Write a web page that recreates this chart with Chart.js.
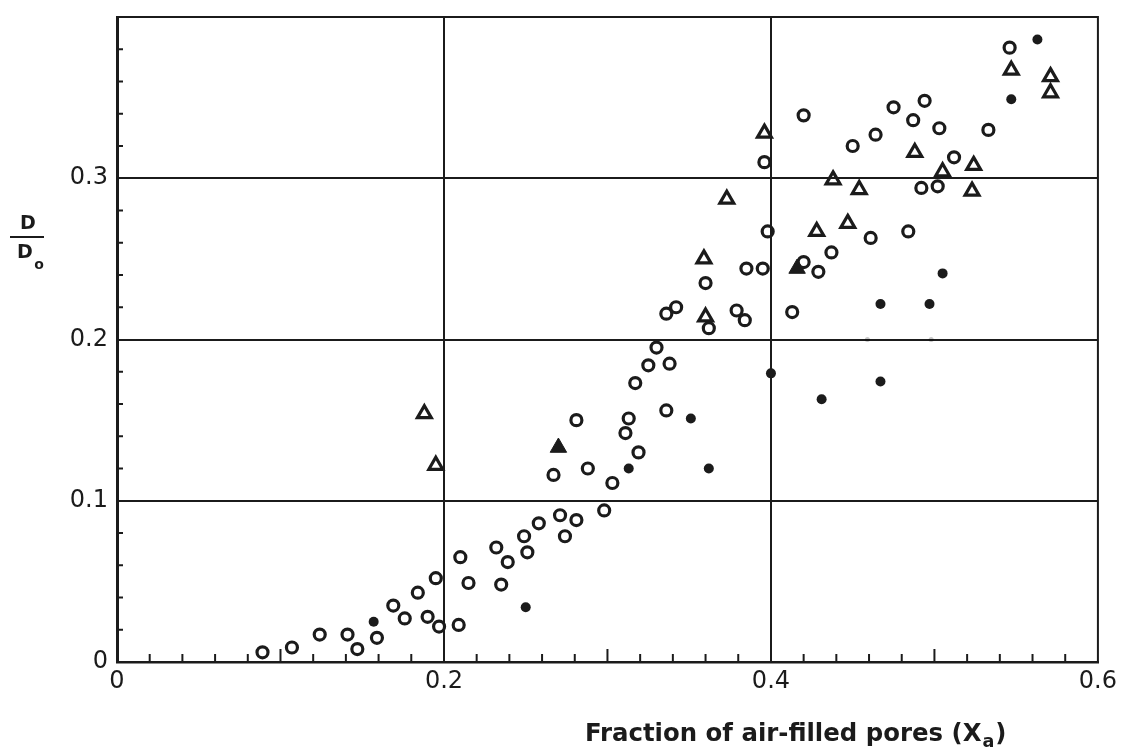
<!DOCTYPE html>
<html>
<head>
<meta charset="utf-8">
<script src="https://cdn.jsdelivr.net/npm/chart.js@4/dist/chart.umd.min.js"></script>
<style>
  html, body { margin: 0; padding: 0; background: #fff; }
  canvas { display: block; }
</style>
</head>
<body>
<canvas id="chart" width="1122" height="748"></canvas>
<script>
// Relative gas diffusivity D/D0 plotted against the fraction of air-filled pores.

// Open circles
const openCircleX = [0.089, 0.107, 0.124, 0.141, 0.147, 0.159, 0.169, 0.176, 0.184, 0.190,
  0.195, 0.197, 0.209, 0.210, 0.215, 0.232, 0.235, 0.239, 0.251, 0.249,
  0.258, 0.267, 0.271, 0.274, 0.281, 0.281, 0.288, 0.298, 0.303, 0.311,
  0.313, 0.319, 0.317, 0.325, 0.338, 0.330, 0.336, 0.336, 0.342, 0.360,
  0.362, 0.379, 0.384, 0.385, 0.395, 0.398, 0.396, 0.413, 0.420, 0.429,
  0.437, 0.461, 0.484, 0.420, 0.450, 0.464, 0.475, 0.487, 0.494, 0.503,
  0.533, 0.512, 0.492, 0.502, 0.546];
const openCircleY = [0.006, 0.009, 0.017, 0.017, 0.008, 0.015, 0.035, 0.027, 0.043, 0.028,
  0.052, 0.022, 0.023, 0.065, 0.049, 0.071, 0.048, 0.062, 0.068, 0.078,
  0.086, 0.116, 0.091, 0.078, 0.088, 0.150, 0.120, 0.094, 0.111, 0.142,
  0.151, 0.130, 0.173, 0.184, 0.185, 0.195, 0.156, 0.216, 0.220, 0.235,
  0.207, 0.218, 0.212, 0.244, 0.244, 0.267, 0.310, 0.217, 0.248, 0.242,
  0.254, 0.263, 0.267, 0.339, 0.320, 0.327, 0.344, 0.336, 0.348, 0.331,
  0.330, 0.313, 0.294, 0.295, 0.381];

// Open triangles
const openTriangleX = [0.188, 0.195, 0.359, 0.360, 0.373, 0.396, 0.428, 0.438, 0.447, 0.454,
  0.488, 0.505, 0.524, 0.523, 0.547, 0.571, 0.571];
const openTriangleY = [0.154, 0.122, 0.250, 0.214, 0.287, 0.328, 0.267, 0.299, 0.272, 0.293,
  0.316, 0.304, 0.308, 0.292, 0.367, 0.363, 0.353];

// Solid triangles
const solidTriangleX = [0.270, 0.416];
const solidTriangleY = [0.133, 0.244];

// Solid dots
const solidDotX = [0.157, 0.250, 0.313, 0.351, 0.362, 0.400, 0.431, 0.467, 0.467, 0.497,
  0.505, 0.547, 0.563];
const solidDotY = [0.025, 0.034, 0.120, 0.151, 0.120, 0.179, 0.163, 0.174, 0.222, 0.222,
  0.241, 0.349, 0.386];

// Faint marks near the 0.2 line
const faintX = [0.459, 0.498];
const faintY = [0.200, 0.200];

// Axis ticks and labels
const xMajorTicks = [0, 0.2, 0.4, 0.6];
const xTickLabels = ['0', '0.2', '0.4', '0.6'];
const yMajorTicks = [0, 0.1, 0.2, 0.3];
const yTickLabels = ['0', '0.1', '0.2', '0.3'];
const minorStep = 0.02;

const ink = '#1b1b1b';
const labelFont = '"DejaVu Sans", "Liberation Sans", sans-serif';

const toPoints = (xs, ys) => xs.map((x, i) => ({ x: x, y: ys[i] }));

// Frame, inward minor ticks and axis titles
const paperPlugin = {
  id: 'paper',
  beforeDatasetsDraw(chart) {
    const { ctx, chartArea: a, scales } = chart;
    ctx.save();
    ctx.strokeStyle = ink;
    ctx.lineCap = 'butt';
    // top and right frame
    ctx.lineWidth = 2;
    ctx.beginPath();
    ctx.moveTo(a.left, a.top);
    ctx.lineTo(a.right, a.top);
    ctx.lineTo(a.right, a.bottom);
    ctx.stroke();
    // x minor ticks (longer at the odd tenths)
    for (let i = 1; i * minorStep < 0.6 - 1e-9; i++) {
      const v = i * minorStep;
      if (Math.abs(v / 0.2 - Math.round(v / 0.2)) < 1e-6) continue;
      const px = scales.x.getPixelForValue(v);
      const half = Math.abs(v / 0.1 - Math.round(v / 0.1)) < 1e-6;
      ctx.beginPath();
      ctx.moveTo(px, a.bottom);
      ctx.lineTo(px, a.bottom - (half ? 13 : 8));
      ctx.stroke();
    }
    // y minor ticks
    for (let i = 1; i * minorStep < 0.4 - 1e-9; i++) {
      const v = i * minorStep;
      if (Math.abs(v / 0.1 - Math.round(v / 0.1)) < 1e-6) continue;
      const py = scales.y.getPixelForValue(v);
      ctx.beginPath();
      ctx.moveTo(a.left, py);
      ctx.lineTo(a.left + 6, py);
      ctx.stroke();
    }
    ctx.restore();
  },
  afterDraw(chart) {
    const { ctx, chartArea: a } = chart;
    ctx.save();
    ctx.fillStyle = ink;
    ctx.strokeStyle = ink;

    // x axis title with subscript
    const main = 'Fraction of air-filled pores (X';
    let size = 22;
    ctx.font = 'bold ' + size + 'px ' + labelFont;
    const targetWidth = a.width * 0.405;
    size = size * targetWidth / ctx.measureText(main).width;
    ctx.font = 'bold ' + size.toFixed(1) + 'px ' + labelFont;
    const tx = a.left + a.width * 0.477;
    const ty = a.bottom + 79;
    ctx.textAlign = 'left';
    ctx.textBaseline = 'alphabetic';
    ctx.fillText(main, tx, ty);
    let cx = tx + ctx.measureText(main).width + 1;
    ctx.font = 'bold ' + (size * 0.72).toFixed(1) + 'px ' + labelFont;
    ctx.fillText('a', cx, ty + 6);
    cx += ctx.measureText('a').width + 1;
    ctx.font = 'bold ' + size.toFixed(1) + 'px ' + labelFont;
    ctx.fillText(')', cx, ty);

    // y axis title as a fraction D / D0
    const fx = 28;
    const lineY = a.top + 220;
    ctx.font = 'bold 19px ' + labelFont;
    ctx.textAlign = 'center';
    ctx.fillText('D', fx, lineY - 8);
    ctx.lineWidth = 2;
    ctx.beginPath();
    ctx.moveTo(fx - 18, lineY);
    ctx.lineTo(fx + 16, lineY);
    ctx.stroke();
    ctx.fillText('D', fx - 3, lineY + 21);
    ctx.font = 'bold 14px ' + labelFont;
    ctx.fillText('o', fx + 11, lineY + 32);
    ctx.restore();
  }
};

new Chart(document.getElementById('chart'), {
  type: 'scatter',
  data: {
    datasets: [
      {
        label: 'faint',
        data: toPoints(faintX, faintY),
        pointStyle: 'circle',
        pointRadius: 2.5,
        borderWidth: 0,
        backgroundColor: 'rgba(0,0,0,0.22)'
      },
      {
        label: 'open circles',
        data: toPoints(openCircleX, openCircleY),
        pointStyle: 'circle',
        pointRadius: 5.5,
        borderWidth: 3.2,
        borderColor: ink,
        backgroundColor: 'rgba(255,255,255,0)'
      },
      {
        label: 'open triangles',
        data: toPoints(openTriangleX, openTriangleY),
        pointStyle: 'triangle',
        pointRadius: 8,
        borderWidth: 3.2,
        borderColor: ink,
        backgroundColor: 'rgba(255,255,255,0)'
      },
      {
        label: 'solid triangles',
        data: toPoints(solidTriangleX, solidTriangleY),
        pointStyle: 'triangle',
        pointRadius: 9.5,
        borderWidth: 1,
        borderColor: ink,
        backgroundColor: ink
      },
      {
        label: 'solid dots',
        data: toPoints(solidDotX, solidDotY),
        pointStyle: 'circle',
        pointRadius: 5,
        borderWidth: 0,
        backgroundColor: ink
      }
    ]
  },
  options: {
    responsive: false,
    animation: false,
    devicePixelRatio: 1,
    layout: { padding: { top: 17, right: 24, left: 0, bottom: 0 } },
    plugins: {
      legend: { display: false },
      tooltip: { enabled: false }
    },
    elements: { point: { hoverRadius: 0 } },
    scales: {
      x: {
        type: 'linear',
        min: 0,
        max: 0.6,
        afterBuildTicks: s => { s.ticks = xMajorTicks.map(v => ({ value: v })); },
        afterFit: s => { s.height = 86; },
        grid: {
          color: c => (c.tick && c.tick.value > 1e-6 && c.tick.value < 0.6 - 1e-6) ? ink : 'rgba(0,0,0,0)',
          lineWidth: 2,
          drawTicks: false
        },
        border: { display: true, color: ink, width: 2.5 },
        ticks: {
          callback: (v, i) => xTickLabels[i],
          color: ink,
          font: { family: labelFont, size: 24 },
          padding: 5,
          maxRotation: 0,
          autoSkip: false
        }
      },
      y: {
        type: 'linear',
        min: 0,
        max: 0.4,
        afterBuildTicks: s => { s.ticks = yMajorTicks.map(v => ({ value: v })); },
        afterFit: s => { s.width = 117; s.paddingTop = 0; s.paddingBottom = 0; },
        grid: {
          color: c => (c.tick && c.tick.value > 1e-6) ? ink : 'rgba(0,0,0,0)',
          lineWidth: 2,
          drawTicks: false
        },
        border: { display: true, color: ink, width: 3 },
        ticks: {
          callback: (v, i) => yTickLabels[i],
          color: ink,
          font: { family: labelFont, size: 24 },
          padding: 9,
          autoSkip: false
        }
      }
    }
  },
  plugins: [paperPlugin]
});
</script>
</body>
</html>
